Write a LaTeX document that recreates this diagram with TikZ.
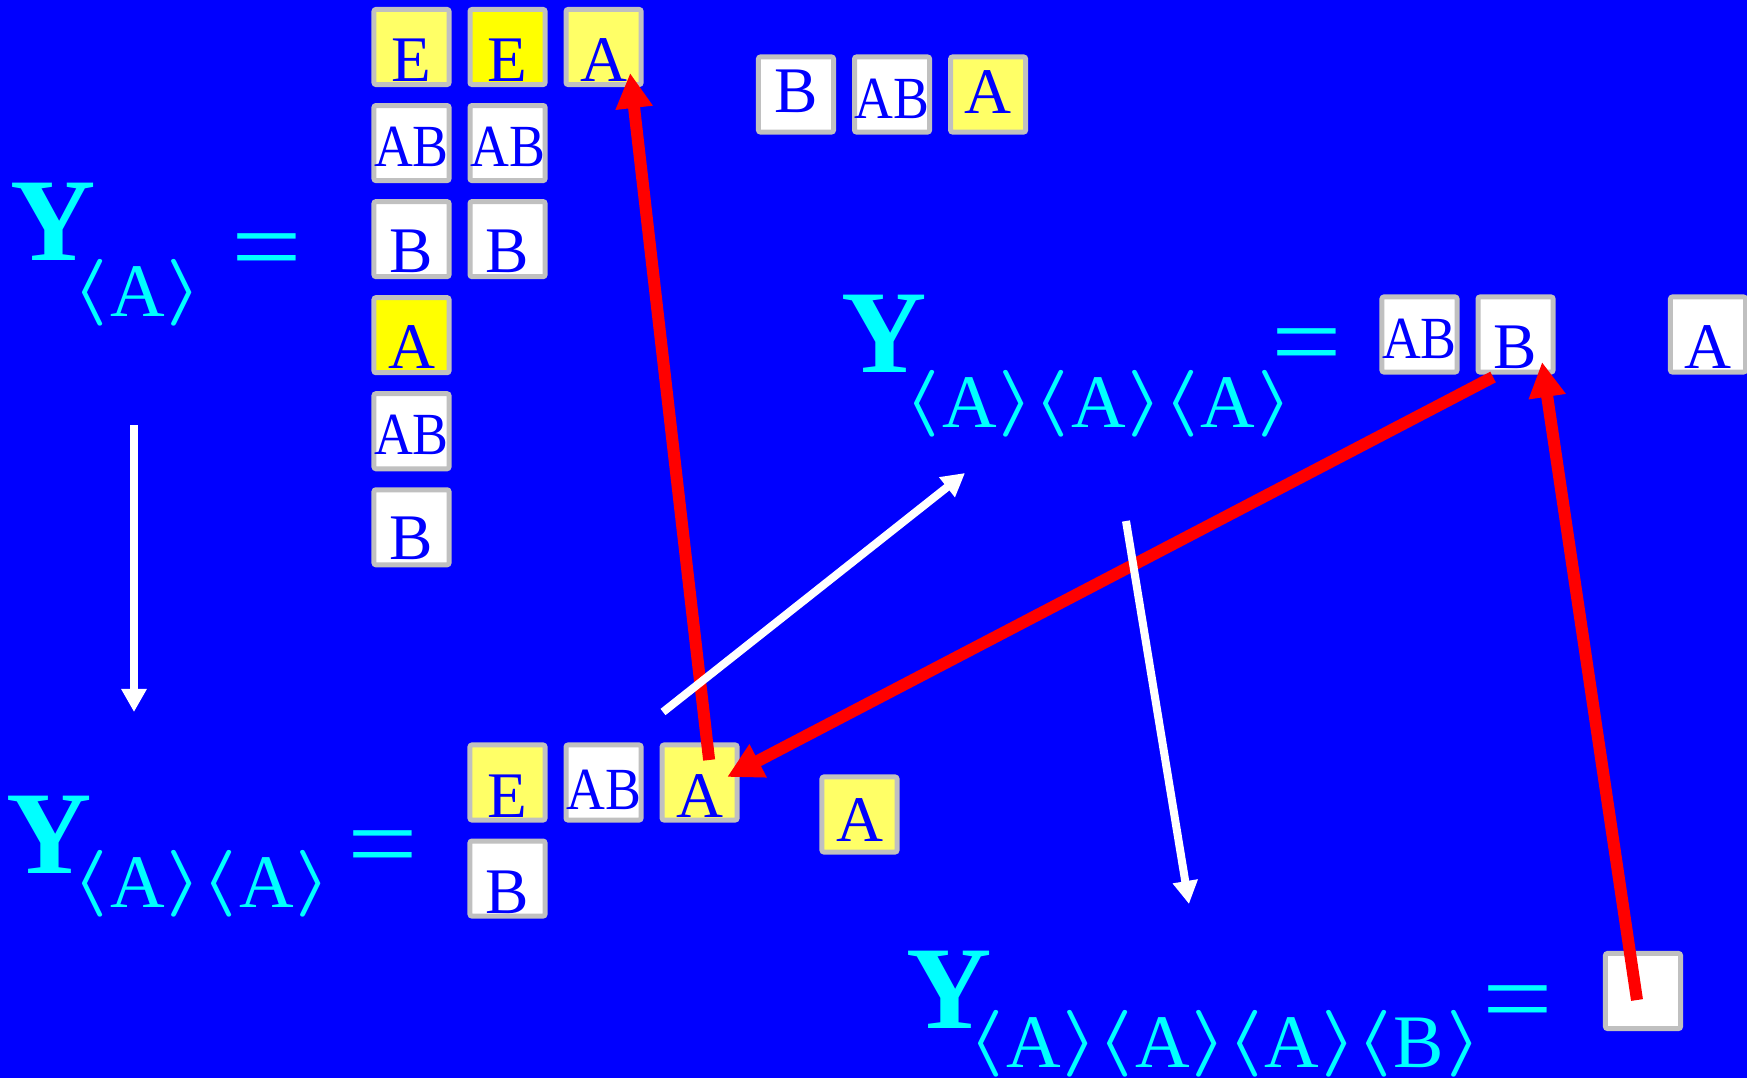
\documentclass[tikz,border=0pt]{standalone}
\usepackage{fontspec}
\setmainfont{Liberation Serif}
\newfontfamily\narrowserif[FakeStretch=0.9]{Liberation Serif}
\usetikzlibrary{arrows.meta,positioning}
\definecolor{bgblue}{RGB}{0,0,255}
\definecolor{symcyan}{RGB}{0,255,255}
\definecolor{boxgray}{RGB}{192,192,192}
\definecolor{paleyellow}{RGB}{255,255,102}
\definecolor{fullyellow}{RGB}{255,255,0}
\newcommand\cellfont{\fontsize{18.5}{18.5}\selectfont}
\newcommand\abfont{\narrowserif\fontsize{17}{17}\selectfont}
\newcommand\bigY{\bfseries\fontsize{33.6}{33.6}\selectfont}
\newcommand\eqsize{\fontsize{31}{31}\selectfont}
\newcommand\subsize{\fontsize{21.5}{21.5}\selectfont}
\newcommand\brk[1]{\raisebox{0.07cm}{\scalebox{1.3}[1.1]{\fontsize{19}{19}\selectfont\boldmath$#1$}}}
\newcommand\angl[1]{\brk{\langle}\kern0.02cm#1\kern0.02cm\brk{\rangle}}
\newcommand\eqmark{\scalebox{1.15}[1]{=}}

\begin{document}
\begin{tikzpicture}[x=0.01cm, y=-0.01cm, node distance=0.16cm,
    cell/.style={draw=boxgray, line width=0.05cm, rounded corners=0.02cm,
      minimum size=0.75cm, inner sep=0pt, text=bgblue, font=\cellfont,
      fill=white, text depth=0pt, text height=#1},
    cell/.default=0.67cm,
    abcell/.style={cell=#1, font=\abfont},
    abcell/.default=0.47cm,
    bigsym/.style={text=symcyan, font=\bigY, inner sep=0pt, anchor=base west},
    subsym/.style={text=symcyan, font=\subsize, inner sep=0pt, anchor=base west},
    eqsym/.style={text=symcyan, font=\eqsize, inner sep=0pt, anchor=base},
    redarrow/.style={draw=red, line width=0.12cm, -{Triangle[length=0.35cm, width=0.35cm]}},
    whitearrow/.style={draw=white, line width=0.08cm, -{Triangle[length=0.23cm, width=0.24cm]}}]
  \useasboundingbox (0,0) rectangle (1747,1078);
  \fill[bgblue] (0,0) rectangle (1747,1078);

  % left stack
  \node[cell=0.68cm, fill=paleyellow] (e1) at (411.5,47) {E};
  \node[cell=0.68cm, fill=fullyellow, right=of e1] (e2) {E};
  \node[cell=0.68cm, fill=paleyellow, right=of e2] (a1) {A};
  \node[abcell, below=of e1] (ab1) {AB};
  \node[abcell, right=of ab1] (ab2) {AB};
  \node[cell, below=of ab1] (b1) {B};
  \node[cell, right=of b1] (b2) {B};
  \node[cell, fill=fullyellow, below=of b1] (a2) {A};
  \node[abcell, below=of a2] (ab3) {AB};
  \node[cell=0.64cm, below=of ab3] (b3) {B};

  % top row
  \node[cell=0.35cm] (b4) at (796,94.5) {B};
  \node[abcell=0.48cm, right=of b4] (ab4) {AB};
  \node[cell=0.37cm, fill=paleyellow, right=of ab4] (a3) {A};

  % middle row
  \node[abcell] (ab5) at (1419.5,334.5) {AB};
  \node[cell, right=of ab5] (b5) {B};
  \node[cell] (a4) at (1708,334.5) {A};

  % bottom rows
  \node[cell=0.69cm, fill=paleyellow] (e3) at (507.5,782.5) {E};
  \node[abcell=0.53cm, right=of e3] (ab6) {AB};
  \node[cell=0.69cm, fill=paleyellow, right=of ab6] (a5) {A};
  \node[cell=0.53cm, fill=paleyellow] (a6) at (859.5,814.5) {A};
  \node[cell=0.69cm, below=of e3] (b6) {B};
  \node[cell] (c1) at (1643,991) {};

  % formulas
  \node[bigsym] (y1) at (10,260) {Y};
  \node[subsym] (s1) at (72,316) {\angl{A}};
  \node[eqsym] (q1) at (266.5,283) {\eqmark};
  \node[bigsym] (y2) at (6,873) {Y};
  \node[subsym] (s2) at (72,907) {\angl{A}\angl{A}};
  \node[eqsym] (q2) at (383,880) {\eqmark};
  \node[bigsym] (y3) at (841,372) {Y};
  \node[subsym] (s3) at (904,427) {\angl{A}\angl{A}\angl{A}};
  \node[eqsym] (q3) at (1306.5,378) {\eqmark};
  \node[bigsym] (y4) at (906,1028) {Y};
  \node[subsym] (s4) at (968,1067) {\angl{A}\angl{A}\angl{A}\angl{B}};
  \node[eqsym] (q4) at (1517.5,1035) {\eqmark};

  % red arrows
  \draw[redarrow] ([xshift=0.095cm, yshift=0.225cm]a5.center) -- ([xshift=0.265cm, yshift=-0.26cm]a1.center);
  \draw[redarrow] ([xshift=-0.225cm, yshift=-0.425cm]b5.center) -- ([xshift=0.275cm, yshift=0.055cm]a5.center);
  \draw[redarrow] ([xshift=-0.06cm, yshift=-0.09cm]c1.center) -- ([xshift=0.265cm, yshift=-0.275cm]b5.center);

  % white arrows
  \coordinate (w1s) at (134,425);
  \coordinate (w1e) at (134,712);
  \coordinate (w2s) at (663,712);
  \coordinate (w2e) at (965,473);
  \coordinate (w3s) at (1126,521);
  \coordinate (w3e) at (1189,904);
  \draw[whitearrow] (w1s) -- (w1e);
  \draw[whitearrow] (w2s) -- (w2e);
  \draw[whitearrow] (w3s) -- (w3e);
\end{tikzpicture}
\end{document}
